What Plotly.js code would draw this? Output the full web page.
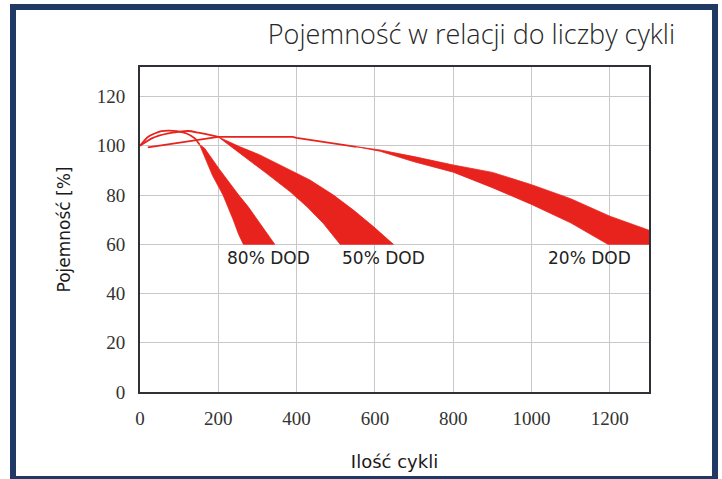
<!DOCTYPE html>
<html><head><meta charset="utf-8">
<script src="https://cdn.plot.ly/plotly-3.0.1.min.js"></script>
<style>html,body{margin:0;padding:0;background:#fff}#chart{width:722px;height:479px}</style>
</head><body><div id="chart"></div>
<script>
const RED = '#e8221c';
const CUT = 60;
const xTicks = [0, 200, 400, 600, 800, 1000, 1200];
const yTicks = [0, 20, 40, 60, 80, 100, 120];
const dodLabels = ['80% DOD', '50% DOD', '20% DOD'];

// thin early-life curves
const early80X = [0, 21, 55, 94, 119, 140, 152];
const early80Y = [100, 103.7, 106, 106, 105, 103, 100.5];
const early50X = [0, 30, 72, 123, 149, 200];
const early50Y = [100, 103, 105, 106, 105.3, 103.6];
const early20X = [20, 200, 390, 400, 553];
const early20Y = [99.4, 103.6, 103.6, 103.2, 99.6];

// spread bands (upper = more cycles, lower = fewer cycles)
const band80UpperX = [152, 165, 204, 230, 252, 276, 311, 344];
const band80UpperY = [100.5, 99, 90.2, 84.5, 80, 75.3, 67.2, 60];
const band80LowerX = [152, 160, 185, 212, 238, 252, 264];
const band80LowerY = [100.5, 97, 88, 80, 70, 64, 60];
const band50UpperX = [200, 255, 306, 375, 434, 494, 545, 596, 647];
const band50UpperY = [103.6, 99.6, 96.3, 90.9, 86.1, 80, 73.9, 67.2, 60];
const band50LowerX = [200, 255, 323, 383, 426, 468, 511];
const band50LowerY = [103.6, 97, 88.8, 81.4, 75.3, 68.5, 60];
const band20UpperX = [553, 613, 700, 800, 900, 1000, 1100, 1200, 1300];
const band20UpperY = [99.6, 98.3, 95.6, 92.2, 89.2, 84.2, 78.5, 71.4, 65.7];
const band20LowerX = [553, 613, 700, 800, 900, 1000, 1100, 1195];
const band20LowerY = [99.6, 97.8, 93.5, 89.3, 83, 76.2, 68.7, 60];

function bandPolygon(ux, uy, lx, ly) {
  const x = ux.slice(), y = uy.slice();
  if (y[y.length - 1] > CUT) { x.push(x[x.length - 1]); y.push(CUT); }
  for (let i = lx.length - 1; i >= 0; i--) { x.push(lx[i]); y.push(ly[i]); }
  return {x, y};
}
function bandTrace(name, ux, uy, lx, ly) {
  const p = bandPolygon(ux, uy, lx, ly);
  return {x: p.x, y: p.y, type: 'scatter', mode: 'lines', fill: 'toself',
    fillcolor: RED, line: {color: RED, width: 0.8}, name: name, hoverinfo: 'name'};
}
function lineTrace(name, x, y) {
  return {x, y, type: 'scatter', mode: 'lines', line: {color: RED, width: 1.8, shape: 'spline', smoothing: 0.6}, name: name};
}

const traces = [
  lineTrace(dodLabels[0], early80X, early80Y),
  lineTrace(dodLabels[1], early50X, early50Y),
  {x: early20X, y: early20Y, type: 'scatter', mode: 'lines', line: {color: RED, width: 1.8}, name: dodLabels[2]},
  bandTrace(dodLabels[0], band80UpperX, band80UpperY, band80LowerX, band80LowerY),
  bandTrace(dodLabels[1], band50UpperX, band50UpperY, band50LowerX, band50LowerY),
  bandTrace(dodLabels[2], band20UpperX, band20UpperY, band20LowerX, band20LowerY)
];

const tickFont = {family: 'Liberation Serif, serif', size: 19, color: '#333'};
const dodFont = {family: 'DejaVu Sans, sans-serif', size: 17, color: '#222'};

const layout = {
  width: 722, height: 479,
  margin: {l: 140, r: 73, t: 67, b: 87},
  paper_bgcolor: '#fff', plot_bgcolor: '#fff',
  showlegend: false,
  title: {text: 'Pojemność w relacji do liczby cykli', xref: 'container', x: 0.935, xanchor: 'right',
    yref: 'container', y: 0.927, yanchor: 'middle',
    font: {family: 'Open Sans, sans-serif', size: 27, weight: 300, color: '#262626'}},
  xaxis: {range: [0, 1300], tickvals: xTicks, ticktext: xTicks.map(String), showgrid: true, gridcolor: '#c8c8c8', gridwidth: 1,
    zeroline: false, showline: true, mirror: true, linecolor: '#2e3136', linewidth: 2,
    ticks: 'outside', ticklen: 8, tickcolor: 'rgba(0,0,0,0)', tickfont: tickFont,
    title: {text: 'Ilość cykli', font: {family: 'DejaVu Sans, sans-serif', size: 18, color: '#1a1a1a'}, standoff: 28}},
  yaxis: {range: [0, 132], tickvals: yTicks, ticktext: yTicks.map(String), showgrid: true, gridcolor: '#c8c8c8', gridwidth: 1,
    zeroline: false, showline: true, mirror: true, linecolor: '#2e3136', linewidth: 2,
    ticks: 'outside', ticklen: 9, tickcolor: 'rgba(0,0,0,0)', tickfont: tickFont,
    title: {text: 'Pojemność [%]', font: {family: 'DejaVu Sans, sans-serif', size: 17, color: '#1a1a1a'}, standoff: 22}},
  annotations: [
    {x: 328, y: 54.4, xref: 'x', yref: 'y', text: dodLabels[0], showarrow: false, font: dodFont},
    {x: 623, y: 54.4, xref: 'x', yref: 'y', text: dodLabels[1], showarrow: false, font: dodFont},
    {x: 1149, y: 54.4, xref: 'x', yref: 'y', text: dodLabels[2], showarrow: false, font: dodFont}
  ],
  shapes: [
    {type: 'rect', xref: 'paper', yref: 'paper', x0: -0.2495, x1: 1.1297, y0: -0.2677, y1: 1.1846,
      line: {color: '#1f3864', width: 6}, fillcolor: 'rgba(0,0,0,0)', layer: 'above'}
  ]
};

Plotly.newPlot('chart', traces, layout, {displayModeBar: false, staticPlot: true});
</script></body></html>
